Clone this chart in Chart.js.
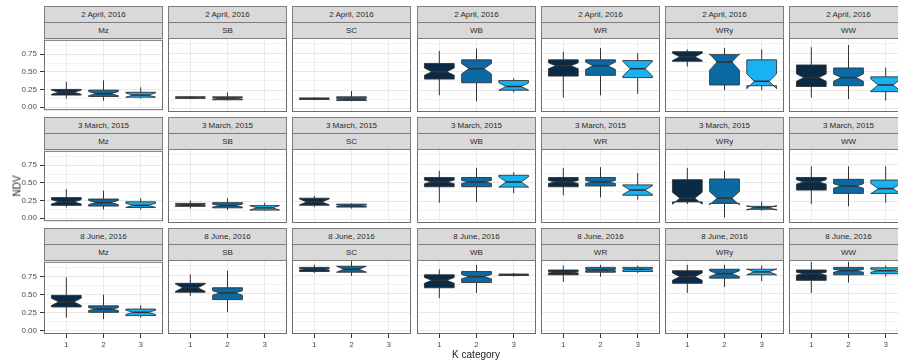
<!DOCTYPE html>
<html>
<head>
<meta charset="utf-8">
<title>NDV by K category</title>
<script src="https://cdn.jsdelivr.net/npm/chart.js@4.4.1/dist/chart.umd.min.js"></script>
<style>
  body { margin: 0; background: #fff; font-family: "Liberation Sans", Arial, sans-serif; }
  #plot { position: relative; width: 898px; height: 362px; overflow: hidden; background: #fff; }
  #plot canvas { position: absolute; }
  .strip {
    position: absolute; box-sizing: border-box; background: #d9d9d9;
    border: 1px solid #7d7d7d; color: #2a2a2a; font-size: 8px;
    text-align: center; white-space: nowrap;
  }
  .axis-title { position: absolute; font-size: 10px; color: #1a1a1a; white-space: nowrap; }
</style>
</head>
<body>
<div id="plot"></div>
<script>
// facets: one row per survey date, one column per crop
const dates = ['2 April, 2016', '3 March, 2015', '8 June, 2016'];
const crops = ['Mz', 'SB', 'SC', 'WB', 'WR', 'WRy', 'WW'];
const kCategories = [1, 2, 3];
const yTicks = [0, 0.25, 0.5, 0.75];
const yMinorTicks = [0.125, 0.375, 0.625, 0.875];

// box statistics, one [k1, k2, k3] triple per crop; null = no plots in that class
const aprLow   = [[0.12, 0.09, 0.12], [0.13, 0.11, null], [0.12, 0.10, null], [0.18, 0.10, 0.22], [0.15, 0.18, 0.20], [0.57, 0.25, 0.25], [0.15, 0.13, 0.11]];
const aprQ1    = [[0.17, 0.15, 0.14], [0.14, 0.12, null], [0.125, 0.11, null], [0.40, 0.35, 0.25], [0.44, 0.45, 0.42], [0.64, 0.32, 0.31], [0.30, 0.31, 0.23]];
const aprMed   = [[0.21, 0.19, 0.17], [0.15, 0.14, null], [0.135, 0.13, null], [0.50, 0.54, 0.30], [0.58, 0.58, 0.54], [0.70, 0.63, 0.37], [0.42, 0.42, 0.32]];
const aprQ3    = [[0.25, 0.24, 0.21], [0.16, 0.16, null], [0.145, 0.16, null], [0.61, 0.66, 0.38], [0.66, 0.66, 0.65], [0.77, 0.73, 0.66], [0.59, 0.55, 0.43]];
const aprHigh  = [[0.36, 0.38, 0.28], [0.17, 0.22, null], [0.15, 0.24, null], [0.78, 0.81, 0.41], [0.77, 0.82, 0.75], [0.80, 0.82, 0.80], [0.83, 0.86, 0.555]];
const aprNotch = [[0.03, 0.03, 0.03], [0.005, 0.01, null], [0.005, 0.01, null], [0.05, 0.07, 0.05], [0.04, 0.05, 0.10], [0.05, 0.11, 0.10], [0.05, 0.05, 0.08]];

const marLow   = [[0.15, 0.12, 0.12], [0.15, 0.13, 0.12], [0.17, 0.15, null], [0.23, 0.24, 0.36], [0.33, 0.30, 0.27], [0.21, 0.03, 0.12], [0.21, 0.18, 0.23]];
const marQ1    = [[0.18, 0.17, 0.15], [0.18, 0.16, 0.13], [0.195, 0.17, null], [0.445, 0.445, 0.44], [0.445, 0.455, 0.33], [0.24, 0.22, 0.14], [0.40, 0.355, 0.355]];
const marMed   = [[0.23, 0.22, 0.18], [0.20, 0.19, 0.16], [0.24, 0.19, null], [0.51, 0.51, 0.51], [0.51, 0.51, 0.40], [0.29, 0.29, 0.16], [0.51, 0.455, 0.42]];
const marQ3    = [[0.29, 0.27, 0.23], [0.22, 0.23, 0.19], [0.29, 0.21, null], [0.57, 0.57, 0.60], [0.57, 0.57, 0.47], [0.54, 0.55, 0.18], [0.57, 0.545, 0.535]];
const marHigh  = [[0.41, 0.39, 0.28], [0.26, 0.29, 0.23], [0.32, 0.22, null], [0.66, 0.70, 0.64], [0.70, 0.71, 0.63], [0.70, 0.66, 0.245], [0.72, 0.72, 0.72]];
const marNotch = [[0.03, 0.03, 0.03], [0.01, 0.02, 0.03], [0.04, 0.01, null], [0.025, 0.02, 0.07], [0.02, 0.02, 0.06], [0.08, 0.09, 0.03], [0.03, 0.03, 0.07]];

const junLow   = [[0.18, 0.16, 0.18], [0.47, 0.255, null], [0.78, 0.74, null], [0.44, 0.51, 0.73], [0.66, 0.73, 0.78], [0.51, 0.59, 0.67], [0.51, 0.65, 0.73]];
const junQ1    = [[0.33, 0.255, 0.21], [0.52, 0.42, null], [0.80, 0.79, null], [0.58, 0.65, 0.745], [0.755, 0.79, 0.80], [0.64, 0.71, 0.755], [0.68, 0.755, 0.77]];
const junMed   = [[0.40, 0.30, 0.255], [0.58, 0.51, null], [0.83, 0.83, null], [0.68, 0.73, 0.755], [0.79, 0.82, 0.83], [0.73, 0.77, 0.795], [0.77, 0.81, 0.81]];
const junQ3    = [[0.49, 0.345, 0.30], [0.64, 0.58, null], [0.855, 0.87, null], [0.755, 0.80, 0.765], [0.82, 0.855, 0.855], [0.81, 0.83, 0.83], [0.82, 0.855, 0.85]];
const junHigh  = [[0.74, 0.50, 0.355], [0.76, 0.81, null], [0.89, 0.94, null], [0.83, 0.89, 0.78], [0.88, 0.89, 0.88], [0.89, 0.89, 0.88], [0.93, 0.93, 0.88]];
const junNotch = [[0.05, 0.02, 0.03], [0.05, 0.03, null], [0.01, 0.04, null], [0.04, 0.03, 0.005], [0.01, 0.01, 0.01], [0.05, 0.04, 0.04], [0.02, 0.02, 0.02]];

const statsByDate = [
  [aprLow, aprQ1, aprMed, aprQ3, aprHigh, aprNotch],
  [marLow, marQ1, marMed, marQ3, marHigh, marNotch],
  [junLow, junQ1, junMed, junQ3, junHigh, junNotch]
];

// look
const kFill = ['#0b2a48', '#0b69a3', '#18b2f2'];
const LINE = '#333333';
const FONT = '"Liberation Sans", Arial, sans-serif';
const BOX_WIDTH = 0.8;
const NOTCH_WIDTH = 0.5;
const Y_MIN = -0.045, Y_MAX = 0.955;

// facet grid geometry
const COL0 = 44, COL_STEP = 124.2, ROW0 = 6, ROW_STEP = 111;
const PANEL_W = 119, PANEL_H = 74, STRIP_H = 17;
const PAD = 6, Y_AXIS_W = 44, X_AXIS_H = 18;

const isMajor = v => Math.abs(v * 4 - Math.round(v * 4)) < 1e-6;

const notchedBoxes = {
  id: 'notchedBoxes',
  afterDatasetsDraw(chart) {
    const { ctx, scales: { x, y } } = chart;
    const py = v => y.getPixelForValue(v);
    ctx.save();
    chart.data.datasets[0].data.forEach(b => {
      const xc = x.getPixelForValue(b.x);
      const half = (x.getPixelForValue(b.x + BOX_WIDTH / 2) - x.getPixelForValue(b.x - BOX_WIDTH / 2)) / 2;
      const xmin = xc - half, xmax = xc + half;
      const indent = (1 - NOTCH_WIDTH) * half;
      const nu = b.y + b.notch, nl = b.y - b.notch;

      // whiskers
      ctx.strokeStyle = LINE;
      ctx.lineWidth = 1;
      ctx.beginPath();
      ctx.moveTo(xc, py(b.high)); ctx.lineTo(xc, py(b.q3));
      ctx.moveTo(xc, py(b.q1)); ctx.lineTo(xc, py(b.low));
      ctx.stroke();

      // notched box, same outline order as ggplot's crossbar
      ctx.beginPath();
      ctx.moveTo(xmin, py(b.q3));
      ctx.lineTo(xmin, py(nu));
      ctx.lineTo(xmin + indent, py(b.y));
      ctx.lineTo(xmin, py(nl));
      ctx.lineTo(xmin, py(b.q1));
      ctx.lineTo(xmax, py(b.q1));
      ctx.lineTo(xmax, py(nl));
      ctx.lineTo(xmax - indent, py(b.y));
      ctx.lineTo(xmax, py(nu));
      ctx.lineTo(xmax, py(b.q3));
      ctx.closePath();
      ctx.fillStyle = kFill[b.x - 1];
      ctx.fill();
      ctx.lineWidth = 0.9;
      ctx.stroke();

      // median
      ctx.lineWidth = 1.6;
      ctx.beginPath();
      ctx.moveTo(xmin + indent, py(b.y));
      ctx.lineTo(xmax - indent, py(b.y));
      ctx.stroke();
    });
    ctx.restore();
  },
  afterDraw(chart) {
    const { ctx, chartArea: a } = chart;
    ctx.save();
    ctx.strokeStyle = '#6e6e6e';
    ctx.lineWidth = 1;
    ctx.strokeRect(a.left + 0.5, a.top + 0.5, a.right - a.left - 1, a.bottom - a.top - 1);
    ctx.restore();
  }
};

const plot = document.getElementById('plot');

function addStrip(text, left, top) {
  const d = document.createElement('div');
  d.className = 'strip';
  d.textContent = text;
  Object.assign(d.style, {
    left: left + 'px', top: top + 'px', width: PANEL_W + 'px',
    height: STRIP_H + 'px', lineHeight: (STRIP_H - 2) + 'px'
  });
  plot.appendChild(d);
}

function boxesFor(r, c) {
  const [low, q1, med, q3, high, notch] = statsByDate[r];
  const out = [];
  kCategories.forEach((k, j) => {
    if (med[c][j] == null) return;
    out.push({ x: k, y: med[c][j], low: low[c][j], q1: q1[c][j], q3: q3[c][j], high: high[c][j], notch: notch[c][j] });
  });
  return out;
}

function drawPanel(r, c) {
  const firstCol = c === 0, bottomRow = r === dates.length - 1;
  const panelLeft = Math.round(COL0 + c * COL_STEP);
  const panelTop = ROW0 + r * ROW_STEP + 2 * STRIP_H - 2;

  const cv = document.createElement('canvas');
  const w = PANEL_W + 2 * PAD + (firstCol ? Y_AXIS_W : 0);
  const h = PANEL_H + 2 * PAD + (bottomRow ? X_AXIS_H : 0);
  cv.width = w; cv.height = h;
  cv.style.width = w + 'px'; cv.style.height = h + 'px';
  cv.style.left = (panelLeft - PAD - (firstCol ? Y_AXIS_W : 0)) + 'px';
  cv.style.top = (panelTop - PAD) + 'px';
  plot.appendChild(cv);

  new Chart(cv, {
    type: 'scatter',
    data: { datasets: [{ data: boxesFor(r, c), pointRadius: 0, showLine: false }] },
    options: {
      responsive: false,
      animation: false,
      events: [],
      layout: { padding: PAD },
      plugins: { legend: { display: false }, tooltip: { enabled: false } },
      scales: {
        x: {
          type: 'linear', min: 0.4, max: 3.6, bounds: 'data',
          afterBuildTicks: s => { s.ticks = kCategories.map(v => ({ value: v })); },
          afterFit: s => { s.height = bottomRow ? X_AXIS_H : 0; },
          border: { display: false },
          grid: { color: '#ebebeb', lineWidth: 1, drawTicks: bottomRow, tickLength: 4, tickColor: LINE },
          ticks: { display: bottomRow, autoSkip: false, maxRotation: 0, padding: 2, color: '#4d4d4d', font: { family: FONT, size: 8 } }
        },
        y: {
          type: 'linear', min: Y_MIN, max: Y_MAX, bounds: 'data',
          afterBuildTicks: s => { s.ticks = yTicks.concat(yMinorTicks).map(v => ({ value: v })); },
          afterFit: s => { s.width = firstCol ? Y_AXIS_W : 0; },
          border: { display: false },
          grid: {
            color: cx => (cx.tick && isMajor(cx.tick.value)) ? '#e8e8e8' : '#f2f2f2',
            lineWidth: 1,
            drawTicks: firstCol,
            tickLength: 4,
            tickColor: cx => (cx.tick && isMajor(cx.tick.value)) ? LINE : 'rgba(0,0,0,0)'
          },
          ticks: {
            display: firstCol, autoSkip: false, padding: 3, color: '#4d4d4d', font: { family: FONT, size: 8 },
            callback: v => isMajor(v) ? v.toFixed(2) : ''
          }
        }
      }
    },
    plugins: [notchedBoxes]
  });

  const stripTop = ROW0 + r * ROW_STEP;
  addStrip(dates[r], panelLeft, stripTop);
  addStrip(crops[c], panelLeft, stripTop + STRIP_H - 1);
}

dates.forEach((d, r) => crops.forEach((cr, c) => drawPanel(r, c)));

// axis titles
const yTitle = document.createElement('div');
yTitle.className = 'axis-title';
yTitle.textContent = 'NDV';
Object.assign(yTitle.style, { left: '17px', top: '186px', transform: 'translate(-50%, -50%) rotate(-90deg)' });
plot.appendChild(yTitle);

const xTitle = document.createElement('div');
xTitle.className = 'axis-title';
xTitle.textContent = 'K category';
Object.assign(xTitle.style, { left: '476px', top: '354px', transform: 'translate(-50%, -50%)' });
plot.appendChild(xTitle);
</script>
</body>
</html>
